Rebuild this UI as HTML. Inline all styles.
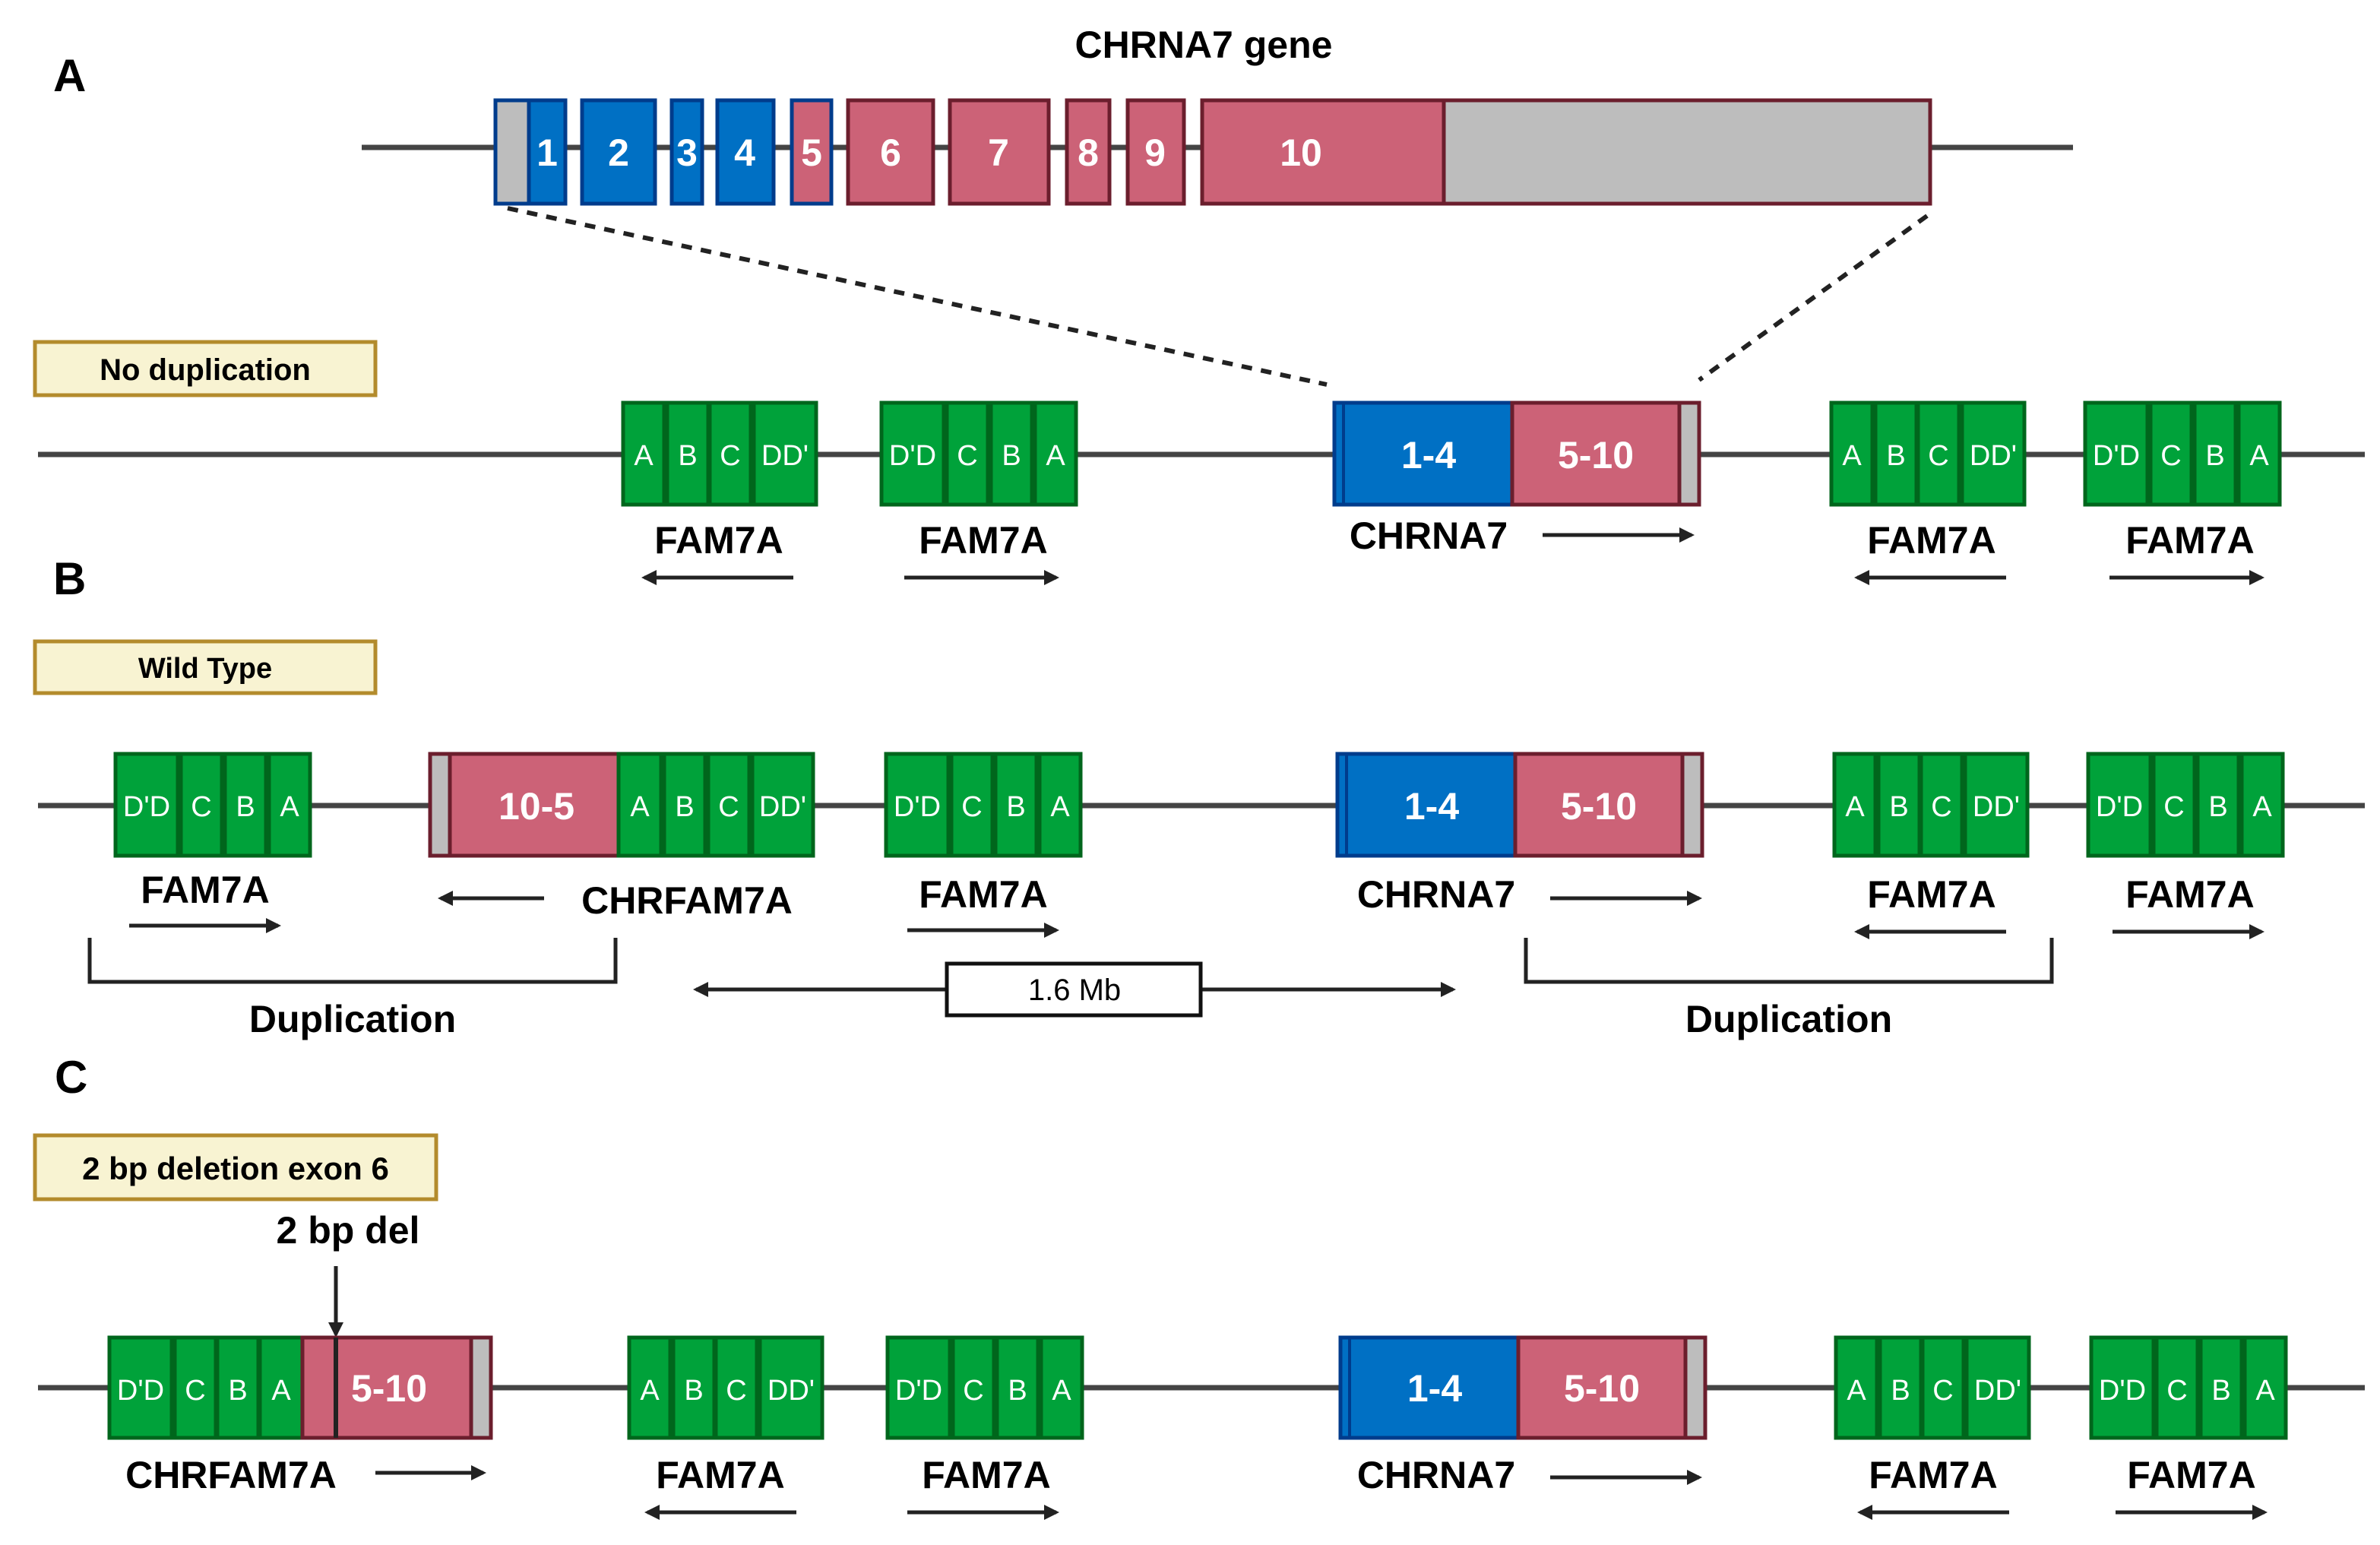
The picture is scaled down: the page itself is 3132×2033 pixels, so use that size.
<!DOCTYPE html>
<html><head><meta charset="utf-8"><style>
html,body{margin:0;padding:0;background:#fff}
svg{display:block}
text{font-family:"Liberation Sans",sans-serif}
.g{fill:#00a23a;stroke:#00661c;stroke-width:2.5}
.b{fill:#0070c4;stroke:#003c8c;stroke-width:2.5}
.p{fill:#cc6277;stroke:#6b1e2d;stroke-width:2.5}
.y{fill:#bdbdbd;stroke:#6b1e2d;stroke-width:2.5}
.gt{fill:#fff;font-size:19px;text-anchor:middle}
.wt{fill:#fff;font-size:25px;font-weight:bold;text-anchor:middle}
.lb{fill:#000;font-size:25px;font-weight:bold;text-anchor:middle}
.ln{stroke:#444;stroke-width:3.5}
.ar{stroke:#222;stroke-width:2.5;marker-end:url(#h)}
.bx{fill:#f8f3d2;stroke:#b38b2c;stroke-width:2.5}
</style></head><body>
<svg width="3132" height="2033" viewBox="0 0 1566 1016.5" xmlns="http://www.w3.org/2000/svg">
<defs><marker id="h" markerWidth="10" markerHeight="10" refX="8" refY="5" orient="auto" markerUnits="userSpaceOnUse"><path d="M0,0 L10,5 L0,10 z" fill="#222"/></marker></defs>

<!-- A -->
<text x="35" y="60" font-size="30" font-weight="bold">A</text>
<text x="792" y="38" class="lb" font-size="27">CHRNA7 gene</text>
<line x1="238" y1="97" x2="1364" y2="97" class="ln"/>
<rect x="326" y="66" width="22" height="68" fill="#bdbdbd" stroke="#003c8c" stroke-width="2.5"/>
<rect x="348" y="66" width="24" height="68" class="b"/><text x="360" y="109" class="wt">1</text>
<rect x="383" y="66" width="48" height="68" class="b"/><text x="407" y="109" class="wt">2</text>
<rect x="442" y="66" width="20" height="68" class="b"/><text x="452" y="109" class="wt">3</text>
<rect x="472" y="66" width="37" height="68" class="b"/><text x="490" y="109" class="wt">4</text>
<rect x="521" y="66" width="26" height="68" fill="#cc6277" stroke="#003c8c" stroke-width="2.5"/><text x="534" y="109" class="wt">5</text>
<rect x="558" y="66" width="56" height="68" class="p"/><text x="586" y="109" class="wt">6</text>
<rect x="625" y="66" width="65" height="68" class="p"/><text x="657" y="109" class="wt">7</text>
<rect x="702" y="66" width="28" height="68" class="p"/><text x="716" y="109" class="wt">8</text>
<rect x="742" y="66" width="37" height="68" class="p"/><text x="760" y="109" class="wt">9</text>
<rect x="791" y="66" width="479" height="68" class="y"/>
<rect x="791" y="66" width="159" height="68" class="p"/><text x="856" y="109" class="wt">10</text>
<line x1="334" y1="137" x2="873" y2="253" stroke="#222" stroke-width="3" stroke-dasharray="7,6"/>
<line x1="1268" y1="142" x2="1118" y2="250" stroke="#222" stroke-width="3" stroke-dasharray="7,6"/>

<rect x="23" y="225" width="224" height="35" class="bx"/>
<text x="135" y="250" font-size="20" font-weight="bold" text-anchor="middle">No duplication</text>

<!-- Row 1 -->
<line x1="25" y1="299" x2="1556" y2="299" class="ln"/>
<g transform="translate(410,265)"><rect width="27" height="67" class="g"/><text x="13.5" y="41" class="gt">A</text><rect x="29" width="27" height="67" class="g"/><text x="42.5" y="41" class="gt">B</text><rect x="57" width="27" height="67" class="g"/><text x="70.5" y="41" class="gt">C</text><rect x="86" width="41" height="67" class="g"/><text x="106.5" y="41" class="gt">DD'</text></g>
<g transform="translate(580,265)"><rect width="41" height="67" class="g"/><text x="20.5" y="41" class="gt">D'D</text><rect x="43" width="27" height="67" class="g"/><text x="56.5" y="41" class="gt">C</text><rect x="72" width="27" height="67" class="g"/><text x="85.5" y="41" class="gt">B</text><rect x="101" width="27" height="67" class="g"/><text x="114.5" y="41" class="gt">A</text></g>
<g transform="translate(878,265)"><rect width="240" height="67" class="y"/><rect width="117" height="67" class="b"/><line x1="6" y1="0" x2="6" y2="67" stroke="#003c8c" stroke-width="2"/><rect x="117" width="110" height="67" class="p"/><text x="62" y="43" class="wt">1-4</text><text x="172" y="43" class="wt">5-10</text></g>
<g transform="translate(1205,265)"><rect width="27" height="67" class="g"/><text x="13.5" y="41" class="gt">A</text><rect x="29" width="27" height="67" class="g"/><text x="42.5" y="41" class="gt">B</text><rect x="57" width="27" height="67" class="g"/><text x="70.5" y="41" class="gt">C</text><rect x="86" width="41" height="67" class="g"/><text x="106.5" y="41" class="gt">DD'</text></g>
<g transform="translate(1372,265)"><rect width="41" height="67" class="g"/><text x="20.5" y="41" class="gt">D'D</text><rect x="43" width="27" height="67" class="g"/><text x="56.5" y="41" class="gt">C</text><rect x="72" width="27" height="67" class="g"/><text x="85.5" y="41" class="gt">B</text><rect x="101" width="27" height="67" class="g"/><text x="114.5" y="41" class="gt">A</text></g>
<text x="473" y="364" class="lb">FAM7A</text><line x1="522" y1="380" x2="424" y2="380" class="ar"/>
<text x="647" y="364" class="lb">FAM7A</text><line x1="595" y1="380" x2="695" y2="380" class="ar"/>
<text x="940" y="361" class="lb">CHRNA7</text><line x1="1015" y1="352" x2="1113" y2="352" class="ar"/>
<text x="1271" y="364" class="lb">FAM7A</text><line x1="1320" y1="380" x2="1222" y2="380" class="ar"/>
<text x="1441" y="364" class="lb">FAM7A</text><line x1="1388" y1="380" x2="1488" y2="380" class="ar"/>

<!-- B -->
<text x="35" y="391" font-size="30" font-weight="bold">B</text>
<rect x="23" y="422" width="224" height="34" class="bx"/>
<text x="135" y="446" font-size="19" font-weight="bold" text-anchor="middle">Wild Type</text>
<line x1="25" y1="530" x2="1556" y2="530" class="ln"/>
<g transform="translate(76,496)"><rect width="41" height="67" class="g"/><text x="20.5" y="41" class="gt">D'D</text><rect x="43" width="27" height="67" class="g"/><text x="56.5" y="41" class="gt">C</text><rect x="72" width="27" height="67" class="g"/><text x="85.5" y="41" class="gt">B</text><rect x="101" width="27" height="67" class="g"/><text x="114.5" y="41" class="gt">A</text></g>
<g transform="translate(283,496)"><rect width="124" height="67" class="y"/><rect x="13" width="111" height="67" class="p"/><text x="70" y="43" class="wt">10-5</text>
<g transform="translate(124,0)"><rect width="28" height="67" class="g"/><text x="14" y="41" class="gt">A</text><rect x="30" width="27" height="67" class="g"/><text x="43.5" y="41" class="gt">B</text><rect x="59" width="27" height="67" class="g"/><text x="72.5" y="41" class="gt">C</text><rect x="88" width="40" height="67" class="g"/><text x="108" y="41" class="gt">DD'</text></g></g>
<g transform="translate(583,496)"><rect width="41" height="67" class="g"/><text x="20.5" y="41" class="gt">D'D</text><rect x="43" width="27" height="67" class="g"/><text x="56.5" y="41" class="gt">C</text><rect x="72" width="27" height="67" class="g"/><text x="85.5" y="41" class="gt">B</text><rect x="101" width="27" height="67" class="g"/><text x="114.5" y="41" class="gt">A</text></g>
<g transform="translate(880,496)"><rect width="240" height="67" class="y"/><rect width="117" height="67" class="b"/><line x1="6" y1="0" x2="6" y2="67" stroke="#003c8c" stroke-width="2"/><rect x="117" width="110" height="67" class="p"/><text x="62" y="43" class="wt">1-4</text><text x="172" y="43" class="wt">5-10</text></g>
<g transform="translate(1207,496)"><rect width="27" height="67" class="g"/><text x="13.5" y="41" class="gt">A</text><rect x="29" width="27" height="67" class="g"/><text x="42.5" y="41" class="gt">B</text><rect x="57" width="27" height="67" class="g"/><text x="70.5" y="41" class="gt">C</text><rect x="86" width="41" height="67" class="g"/><text x="106.5" y="41" class="gt">DD'</text></g>
<g transform="translate(1374,496)"><rect width="41" height="67" class="g"/><text x="20.5" y="41" class="gt">D'D</text><rect x="43" width="27" height="67" class="g"/><text x="56.5" y="41" class="gt">C</text><rect x="72" width="27" height="67" class="g"/><text x="85.5" y="41" class="gt">B</text><rect x="101" width="27" height="67" class="g"/><text x="114.5" y="41" class="gt">A</text></g>
<text x="135" y="594" class="lb">FAM7A</text><line x1="85" y1="609" x2="183" y2="609" class="ar"/>
<text x="452" y="601" class="lb">CHRFAM7A</text><line x1="358" y1="591" x2="290" y2="591" class="ar"/>
<text x="647" y="597" class="lb">FAM7A</text><line x1="597" y1="612" x2="695" y2="612" class="ar"/>
<text x="945" y="597" class="lb">CHRNA7</text><line x1="1020" y1="591" x2="1118" y2="591" class="ar"/>
<text x="1271" y="597" class="lb">FAM7A</text><line x1="1320" y1="613" x2="1222" y2="613" class="ar"/>
<text x="1441" y="597" class="lb">FAM7A</text><line x1="1390" y1="613" x2="1488" y2="613" class="ar"/>
<polyline points="59,617 59,646 405,646 405,617" fill="none" stroke="#222" stroke-width="2.5"/>
<text x="232" y="679" class="lb">Duplication</text>
<polyline points="1004,617 1004,646 1350,646 1350,617" fill="none" stroke="#222" stroke-width="2.5"/>
<text x="1177" y="679" class="lb">Duplication</text>
<line x1="623" y1="651" x2="458" y2="651" class="ar"/>
<line x1="790" y1="651" x2="956" y2="651" class="ar"/>
<rect x="623" y="634" width="167" height="34" fill="#fff" stroke="#111" stroke-width="2.5"/>
<text x="707" y="658" font-size="20" text-anchor="middle">1.6 Mb</text>

<!-- C -->
<text x="36" y="719" font-size="30" font-weight="bold">C</text>
<rect x="23" y="747" width="264" height="42" class="bx"/>
<text x="155" y="776" font-size="21" font-weight="bold" text-anchor="middle">2 bp deletion exon 6</text>
<text x="229" y="818" class="lb">2 bp del</text>
<line x1="221" y1="833" x2="221" y2="878" class="ar"/>
<line x1="25" y1="913" x2="1556" y2="913" class="ln"/>
<g transform="translate(72,880)"><rect width="41" height="66" class="g"/><text x="20.5" y="41" class="gt">D'D</text><rect x="43" width="27" height="66" class="g"/><text x="56.5" y="41" class="gt">C</text><rect x="71" width="27" height="66" class="g"/><text x="84.5" y="41" class="gt">B</text><rect x="99" width="28" height="66" class="g"/><text x="113" y="41" class="gt">A</text>
<rect x="127" width="124" height="66" class="y"/><rect x="127" width="111" height="66" class="p"/><line x1="149" y1="0" x2="149" y2="66" stroke="#222" stroke-width="3"/><text x="184" y="42" class="wt">5-10</text></g>
<g transform="translate(414,880)"><rect width="27" height="66" class="g"/><text x="13.5" y="41" class="gt">A</text><rect x="29" width="27" height="66" class="g"/><text x="42.5" y="41" class="gt">B</text><rect x="57" width="27" height="66" class="g"/><text x="70.5" y="41" class="gt">C</text><rect x="86" width="41" height="66" class="g"/><text x="106.5" y="41" class="gt">DD'</text></g>
<g transform="translate(584,880)"><rect width="41" height="66" class="g"/><text x="20.5" y="41" class="gt">D'D</text><rect x="43" width="27" height="66" class="g"/><text x="56.5" y="41" class="gt">C</text><rect x="72" width="27" height="66" class="g"/><text x="85.5" y="41" class="gt">B</text><rect x="101" width="27" height="66" class="g"/><text x="114.5" y="41" class="gt">A</text></g>
<g transform="translate(882,880)"><rect width="240" height="66" class="y"/><rect width="117" height="66" class="b"/><line x1="6" y1="0" x2="6" y2="66" stroke="#003c8c" stroke-width="2"/><rect x="117" width="110" height="66" class="p"/><text x="62" y="42" class="wt">1-4</text><text x="172" y="42" class="wt">5-10</text></g>
<g transform="translate(1208,880)"><rect width="27" height="66" class="g"/><text x="13.5" y="41" class="gt">A</text><rect x="29" width="27" height="66" class="g"/><text x="42.5" y="41" class="gt">B</text><rect x="57" width="27" height="66" class="g"/><text x="70.5" y="41" class="gt">C</text><rect x="86" width="41" height="66" class="g"/><text x="106.5" y="41" class="gt">DD'</text></g>
<g transform="translate(1376,880)"><rect width="41" height="66" class="g"/><text x="20.5" y="41" class="gt">D'D</text><rect x="43" width="27" height="66" class="g"/><text x="56.5" y="41" class="gt">C</text><rect x="72" width="27" height="66" class="g"/><text x="85.5" y="41" class="gt">B</text><rect x="101" width="27" height="66" class="g"/><text x="114.5" y="41" class="gt">A</text></g>
<text x="152" y="979" class="lb">CHRFAM7A</text><line x1="247" y1="969" x2="318" y2="969" class="ar"/>
<text x="474" y="979" class="lb">FAM7A</text><line x1="524" y1="995" x2="426" y2="995" class="ar"/>
<text x="649" y="979" class="lb">FAM7A</text><line x1="597" y1="995" x2="695" y2="995" class="ar"/>
<text x="945" y="979" class="lb">CHRNA7</text><line x1="1020" y1="972" x2="1118" y2="972" class="ar"/>
<text x="1272" y="979" class="lb">FAM7A</text><line x1="1322" y1="995" x2="1224" y2="995" class="ar"/>
<text x="1442" y="979" class="lb">FAM7A</text><line x1="1392" y1="995" x2="1490" y2="995" class="ar"/>
</svg>
</body></html>
